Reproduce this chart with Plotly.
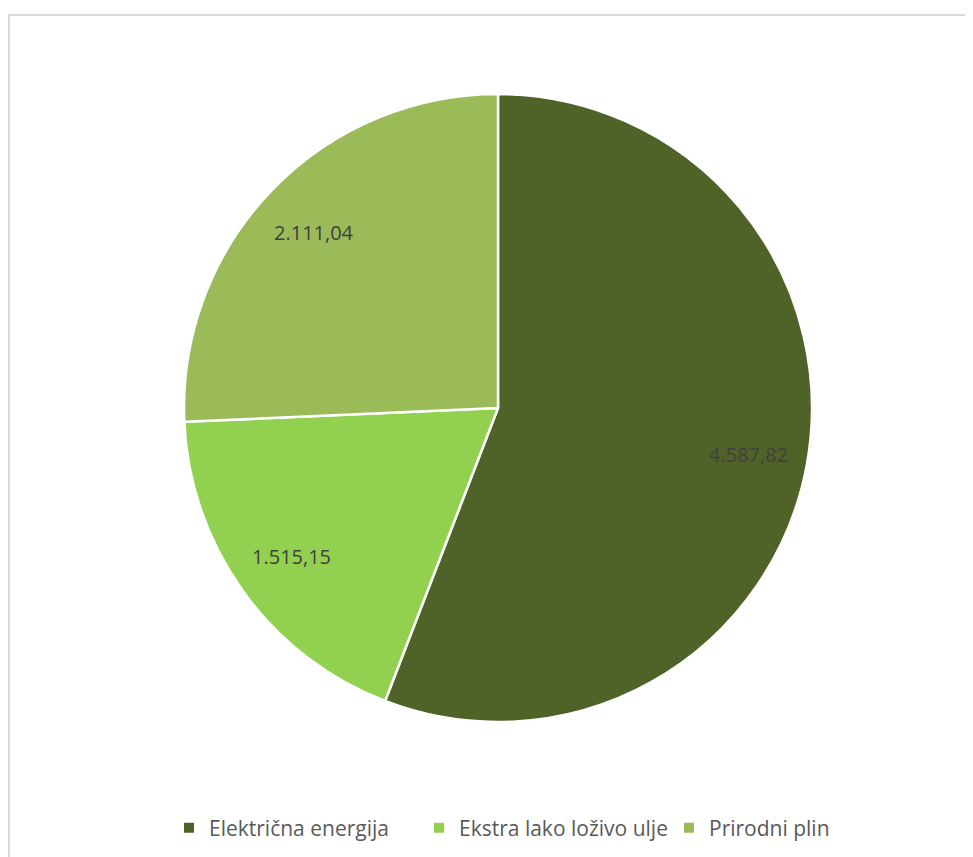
import math
import plotly.graph_objects as go

categories = ["Električna energija", "Ekstra lako loživo ulje", "Prirodni plin"]
values = [4587.82, 1515.15, 2111.04]
value_labels = ["4.587,82", "1.515,15", "2.111,04"]
colors = ["#4f6228", "#92d050", "#9bbb59"]

OFF = 8  # page body margin
W, H = 973 - OFF, 857 - OFF
cx, cy, r = 498 - OFF, 408 - OFF, 314  # pixel geometry of the pie (figure coords)

dom_x = [(cx - r) / W, (cx + r) / W]
dom_y = [(H - cy - r) / H, (H - cy + r) / H]

FONT = "Open Sans, Liberation Sans, sans-serif"

fig = go.Figure(go.Pie(
    labels=categories,
    values=values,
    sort=False,
    direction="clockwise",
    rotation=0,
    marker=dict(colors=colors, line=dict(color="white", width=2.5)),
    textinfo="none",
    hoverinfo="label+value",
    domain=dict(x=dom_x, y=dom_y),
))

# data labels near the outer edge (inside end), placed from the slice mid-angles
total = sum(values)
cum = 0
annotations = []
for v, lab in zip(values, value_labels):
    mid = (cum + v / 2) / total * 2 * math.pi
    cum += v
    rr = 0.81 * r
    px = cx + rr * math.sin(mid)
    py = cy - rr * math.cos(mid)
    annotations.append(dict(
        x=px / W, y=1 - py / H, xref="paper", yref="paper",
        text=lab, showarrow=False,
        font=dict(family=FONT, size=20, color="#404040"),
        xanchor="center", yanchor="middle",
    ))

fig.update_layout(
    width=W, height=H,
    margin=dict(l=0, r=0, t=0, b=0),
    paper_bgcolor="white",
    plot_bgcolor="white",
    showlegend=True,
    legend=dict(
        orientation="h", x=(544 - OFF) / W, xanchor="center",
        y=1 - (828 - OFF) / H, yanchor="middle",
        font=dict(family=FONT, size=21, color="#595959"),
        itemsizing="constant",
        entrywidth=205,
    ),
    annotations=annotations,
    shapes=[dict(
        type="rect", xref="paper", yref="paper",
        x0=(9 - OFF) / W, x1=1.02, y0=-0.02, y1=1 - (15 - OFF) / H,
        line=dict(color="#d9d9d9", width=2), fillcolor="rgba(0,0,0,0)",
        layer="below",
    )],
)

fig.write_html("out.html")
